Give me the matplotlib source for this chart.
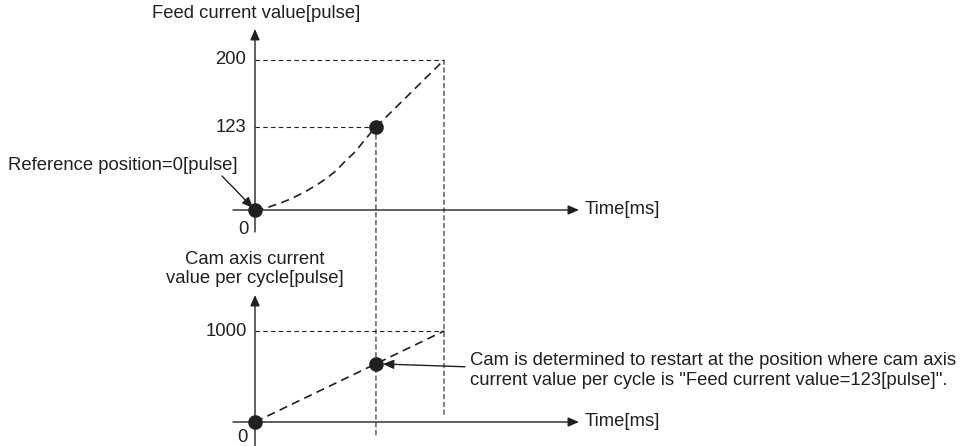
import numpy as np
import matplotlib
matplotlib.use("Agg")
import matplotlib.pyplot as plt
from matplotlib.patches import ConnectionPatch

plt.rcParams['font.family'] = ['Liberation Sans', 'DejaVu Sans']
plt.rcParams['font.size'] = 13.3

INK = '#231f20'

# feed current value curve (time in ms, value in pulse)
feed_t = [0, 0.53, 1.32, 1.94, 2.65, 3.26, 3.79, 4.32, 4.76, 5.29, 5.73, 6.17, 6.40, 10.0]
feed_v = [0, 2.5, 10, 17, 27, 37, 47, 59, 72, 86, 101, 116, 123, 200]

# cam axis current value per cycle
cam_t = [0, 10.0]
cam_v = [0, 1000]

restart_t = 6.40
restart_feed = 123
restart_cam = 640
feed_ticks = [200, 123]
cam_ticks = [1000]

# layout (pixels)
W, H = 962, 446
ORIGIN_X = 255
PX_PER_MS = 18.9
TOP_ORIGIN_Y = 210
BOT_ORIGIN_Y = 422
CAM_PX = 91 / 1000


# the feed axis is drawn schematically: 123 and 200 are not to scale
def top_fwd(v):
    v = np.asarray(v, float)
    return np.where(v < 123, v * 83 / 123, 83 + (v - 123) * 67 / 77)


def top_inv(h):
    h = np.asarray(h, float)
    return np.where(h < 83, h * 123 / 83, 123 + (h - 83) * 77 / 67)


fig = plt.figure(figsize=(W / 100, H / 100), dpi=100)
ax_top = fig.add_axes([0, 0, 1, 1])
ax_bot = fig.add_axes([0, 0, 1, 1])
xlim = (-ORIGIN_X / PX_PER_MS, (W - ORIGIN_X) / PX_PER_MS)
for ax in (ax_top, ax_bot):
    ax.set_xlim(*xlim)
    ax.axis('off')
    ax.patch.set_alpha(0)

ax_top.set_yscale('function', functions=(top_fwd, top_inv))
ax_top.set_ylim(float(top_inv(-(H - TOP_ORIGIN_Y))), float(top_inv(TOP_ORIGIN_Y)))
ax_bot.set_ylim(-(H - BOT_ORIGIN_Y) / CAM_PX, BOT_ORIGIN_Y / CAM_PX)

x_lo = (233 - ORIGIN_X) / PX_PER_MS
x_hi = (579 - ORIGIN_X) / PX_PER_MS
arrow = dict(arrowstyle='-|>,head_length=0.65,head_width=0.28', mutation_scale=10,
             color=INK, lw=1.0, shrinkA=0, shrinkB=0)
guide = dict(color=INK, lw=0.8, linestyle=(0, (4, 3)))
curve = dict(color=INK, lw=1.2, linestyle=(0, (5, 3.2)))
dot = dict(marker='o', markersize=9.5, color=INK, linestyle='none', zorder=5)


def axes_arrows(ax, y_lo, y_hi):
    ax.annotate('', xy=(x_hi, 0), xytext=(x_lo, 0), arrowprops=arrow, annotation_clip=False)
    ax.annotate('', xy=(0, y_hi), xytext=(0, y_lo), arrowprops=arrow, annotation_clip=False)
    ax.annotate('Time[ms]', xy=(x_hi, 0), xytext=(6, 0), textcoords='offset pixels',
                ha='left', va='center', color=INK)


# ---- top: feed current value
top_y_hi = float(top_inv(181))
axes_arrows(ax_top, float(top_inv(-22)), top_y_hi)
ax_top.annotate('Feed current value[pulse]', xy=(0, top_y_hi), xytext=(1, 15),
                textcoords='offset pixels', ha='center', va='center', color=INK)
ax_top.plot(feed_t, feed_v, **curve)
ax_top.plot([0, feed_t[-1]], [feed_v[-1], feed_v[-1]], **guide)
ax_top.plot([0, restart_t], [restart_feed, restart_feed], **guide)
for v in feed_ticks:
    ax_top.annotate(str(v), xy=(0, v), xytext=(-9, 0), textcoords='offset pixels',
                    ha='right', va='center', color=INK)
ax_top.annotate('0', xy=(0, 0), xytext=(-12, -19), textcoords='offset pixels',
                ha='center', va='center', color=INK)
ax_top.plot([0, restart_t], [0, restart_feed], **dot)
ax_top.annotate('Reference position=0[pulse]', xy=(0, 0), xytext=(-17, 44),
                textcoords='offset pixels', ha='right', va='center', color=INK)
ax_top.annotate('', xy=(0, 0), xytext=(-33, 34), textcoords='offset pixels',
                arrowprops=dict(arrow, shrinkB=2))

# ---- bottom: cam axis current value per cycle
bot_y_hi = 127 / CAM_PX
axes_arrows(ax_bot, -40 / CAM_PX, bot_y_hi)
ax_bot.annotate('Cam axis current\nvalue per cycle[pulse]', xy=(0, bot_y_hi), xytext=(0, 26),
                textcoords='offset pixels', ha='center', va='center', color=INK,
                linespacing=1.2)
ax_bot.plot(cam_t, cam_v, **curve)
ax_bot.plot([0, cam_t[-1]], [cam_v[-1], cam_v[-1]], **guide)
for v in cam_ticks:
    ax_bot.annotate(str(v), xy=(0, v), xytext=(-8, 0), textcoords='offset pixels',
                    ha='right', va='center', color=INK)
ax_bot.annotate('0', xy=(0, 0), xytext=(-13, -16), textcoords='offset pixels',
                ha='center', va='center', color=INK)
ax_bot.plot([0, restart_t], [0, restart_cam], **dot)
ax_bot.annotate('Cam is determined to restart at the position where cam axis\n'
                'current value per cycle is "Feed current value=123[pulse]".',
                xy=(restart_t, restart_cam), xytext=(94, -7), textcoords='offset pixels',
                ha='left', va='center', color=INK, linespacing=1.25)
ax_bot.annotate('', xy=(restart_t, restart_cam), xytext=(89, -3), textcoords='offset pixels',
                arrowprops=dict(arrow, shrinkB=5))

# vertical guides running from the top chart down into the bottom one
for t, v_top, v_end in [(feed_t[-1], feed_v[-1], 7 / CAM_PX), (restart_t, restart_feed, -15 / CAM_PX)]:
    fig.add_artist(ConnectionPatch(xyA=(t, v_top), coordsA=ax_top.transData,
                                   xyB=(t, v_end), coordsB=ax_bot.transData, **guide))

fig.savefig('out.png', dpi=100)
